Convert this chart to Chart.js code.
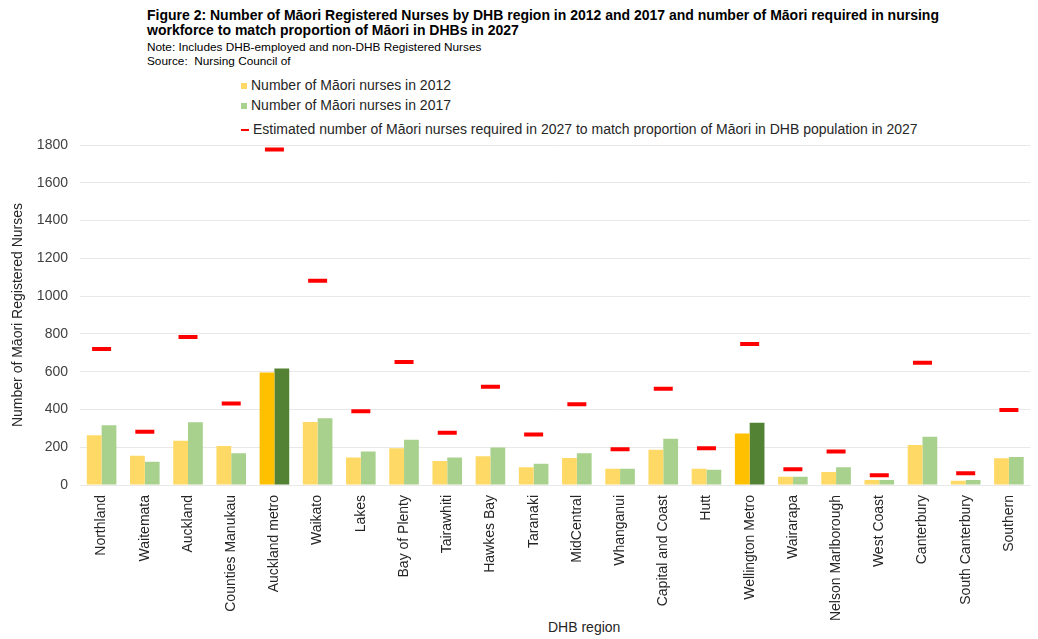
<!DOCTYPE html>
<html>
<head>
<meta charset="utf-8">
<script src="https://cdn.jsdelivr.net/npm/chart.js@4/dist/chart.umd.min.js"></script>
<style>
  html, body { margin: 0; padding: 0; background: #fff; overflow: hidden; }
  body { width: 1038px; height: 639px; position: relative; font-family: "Liberation Sans", Arial, sans-serif; }
  #wrap { position: absolute; left: 0; top: 0; width: 1044px; height: 639px; }
  .title { position: absolute; left: 147px; top: 8px; font-weight: bold; font-size: 14px; line-height: 15px; color: #000; }
  .note { position: absolute; left: 147px; font-size: 11.8px; color: #000; }
  .legend { position: absolute; left: 241px; font-size: 14px; color: #262626; }
  .legend span.sw { display: inline-block; vertical-align: middle; margin-right: 4px; }
  .xtitle { position: absolute; top: 619px; left: 548px; font-size: 14px; color: #262626; }
</style>
</head>
<body>
<div class="title">Figure 2: Number of Māori Registered Nurses by DHB region in 2012 and 2017 and number of Māori required in nursing<br>workforce to match proportion of Māori in DHBs in 2027</div>
<div class="note" style="top:40px">Note: Includes DHB-employed and non-DHB Registered Nurses</div>
<div class="note" style="top:54px">Source:&nbsp; Nursing Council of</div>

<div class="legend" style="top:77px"><span class="sw" style="width:6px;height:6px;background:#FFD966"></span>Number of Māori nurses in 2012</div>
<div class="legend" style="top:97px"><span class="sw" style="width:6px;height:6px;background:#A9D18E"></span>Number of Māori nurses in 2017</div>
<div class="legend" style="top:121px"><span class="sw" style="width:8px;height:2px;background:#FF0000"></span>Estimated number of Māori nurses required in 2027 to match proportion of Māori in DHB population in 2027</div>

<div class="xtitle">DHB region</div>

<div id="wrap"><canvas id="chart"></canvas></div>

<script>
// DHB regions (x axis)
const regions = ['Northland', 'Waitemata', 'Auckland', 'Counties Manukau', 'Auckland metro', 'Waikato', 'Lakes',
  'Bay of Plenty', 'Tairawhiti', 'Hawkes Bay', 'Taranaki', 'MidCentral', 'Whanganui', 'Capital and Coast', 'Hutt',
  'Wellington Metro', 'Wairarapa', 'Nelson Marlborough', 'West Coast', 'Canterbury', 'South Canterbury', 'Southern'];

// values
const nurses2012 = [264, 155, 234, 206, 596, 333, 145, 194, 127, 152, 94, 143, 86, 187, 86, 273, 44, 69, 26, 212, 23, 141];
const nurses2017 = [316, 123, 332, 168, 617, 353, 178, 240, 145, 199, 113, 168, 86, 245, 81, 330, 44, 94, 26, 256, 26, 148];
const required2027 = [720, 282, 784, 432, 1776, 1081, 391, 651, 277, 520, 268, 427, 189, 509, 194, 746, 83, 178, 51, 647, 62, 397];

const yTicks = [0, 200, 400, 600, 800, 1000, 1200, 1400, 1600, 1800];

// metro totals are drawn in stronger colours
const metro = ['Auckland metro', 'Wellington Metro'];
const colors2012 = regions.map(r => metro.includes(r) ? '#FFC000' : '#FFD966');
const colors2017 = regions.map(r => metro.includes(r) ? '#548235' : '#A9D18E');

const ctx = document.getElementById('chart');
new Chart(ctx, {
  type: 'bar',
  data: {
    labels: regions,
    datasets: [
      {
        label: 'Estimated number of Māori nurses required in 2027 to match proportion of Māori in DHB population in 2027',
        type: 'line',
        data: required2027,
        showLine: false,
        pointStyle: 'line',
        pointRadius: 9.5,
        pointHoverRadius: 9.5,
        pointBorderWidth: 4,
        borderColor: '#FF0000',
        backgroundColor: '#FF0000',
        order: 0
      },
      {
        label: 'Number of Māori nurses in 2012',
        data: nurses2012,
        backgroundColor: colors2012,
        categoryPercentage: 0.685,
        barPercentage: 1.0,
        order: 1
      },
      {
        label: 'Number of Māori nurses in 2017',
        data: nurses2017,
        backgroundColor: colors2017,
        categoryPercentage: 0.685,
        barPercentage: 1.0,
        order: 1
      }
    ]
  },
  options: {
    responsive: true,
    maintainAspectRatio: false,
    animation: false,
    layout: { padding: { top: 145, right: 0, left: 0, bottom: 0 } },
    plugins: {
      legend: { display: false },
      tooltip: { enabled: false }
    },
    scales: {
      x: {
        grid: { display: false, drawTicks: false },
        border: { display: false },
        ticks: {
          minRotation: 90,
          maxRotation: 90,
          padding: 10,
          color: '#262626',
          font: { family: 'Liberation Sans', size: 14 }
        },
        afterFit: (scale) => { scale.height = 154; }
      },
      y: {
        min: 0,
        max: 1800,
        afterBuildTicks: (scale) => { scale.ticks = yTicks.map(v => ({ value: v })); },
        grid: { color: '#E8E8E8', lineWidth: 1, drawTicks: false },
        border: { display: false },
        ticks: {
          padding: 12,
          color: '#404040',
          font: { family: 'Liberation Sans', size: 14 },
          callback: (value) => String(value)
        },
        title: {
          display: true,
          text: 'Number of Māori Registered Nurses',
          color: '#262626',
          font: { family: 'Liberation Sans', size: 14 },
          padding: { top: 10, bottom: 0 }
        },
        afterFit: (scale) => { scale.width = 80; }
      }
    }
  }
});
</script>
</body>
</html>
